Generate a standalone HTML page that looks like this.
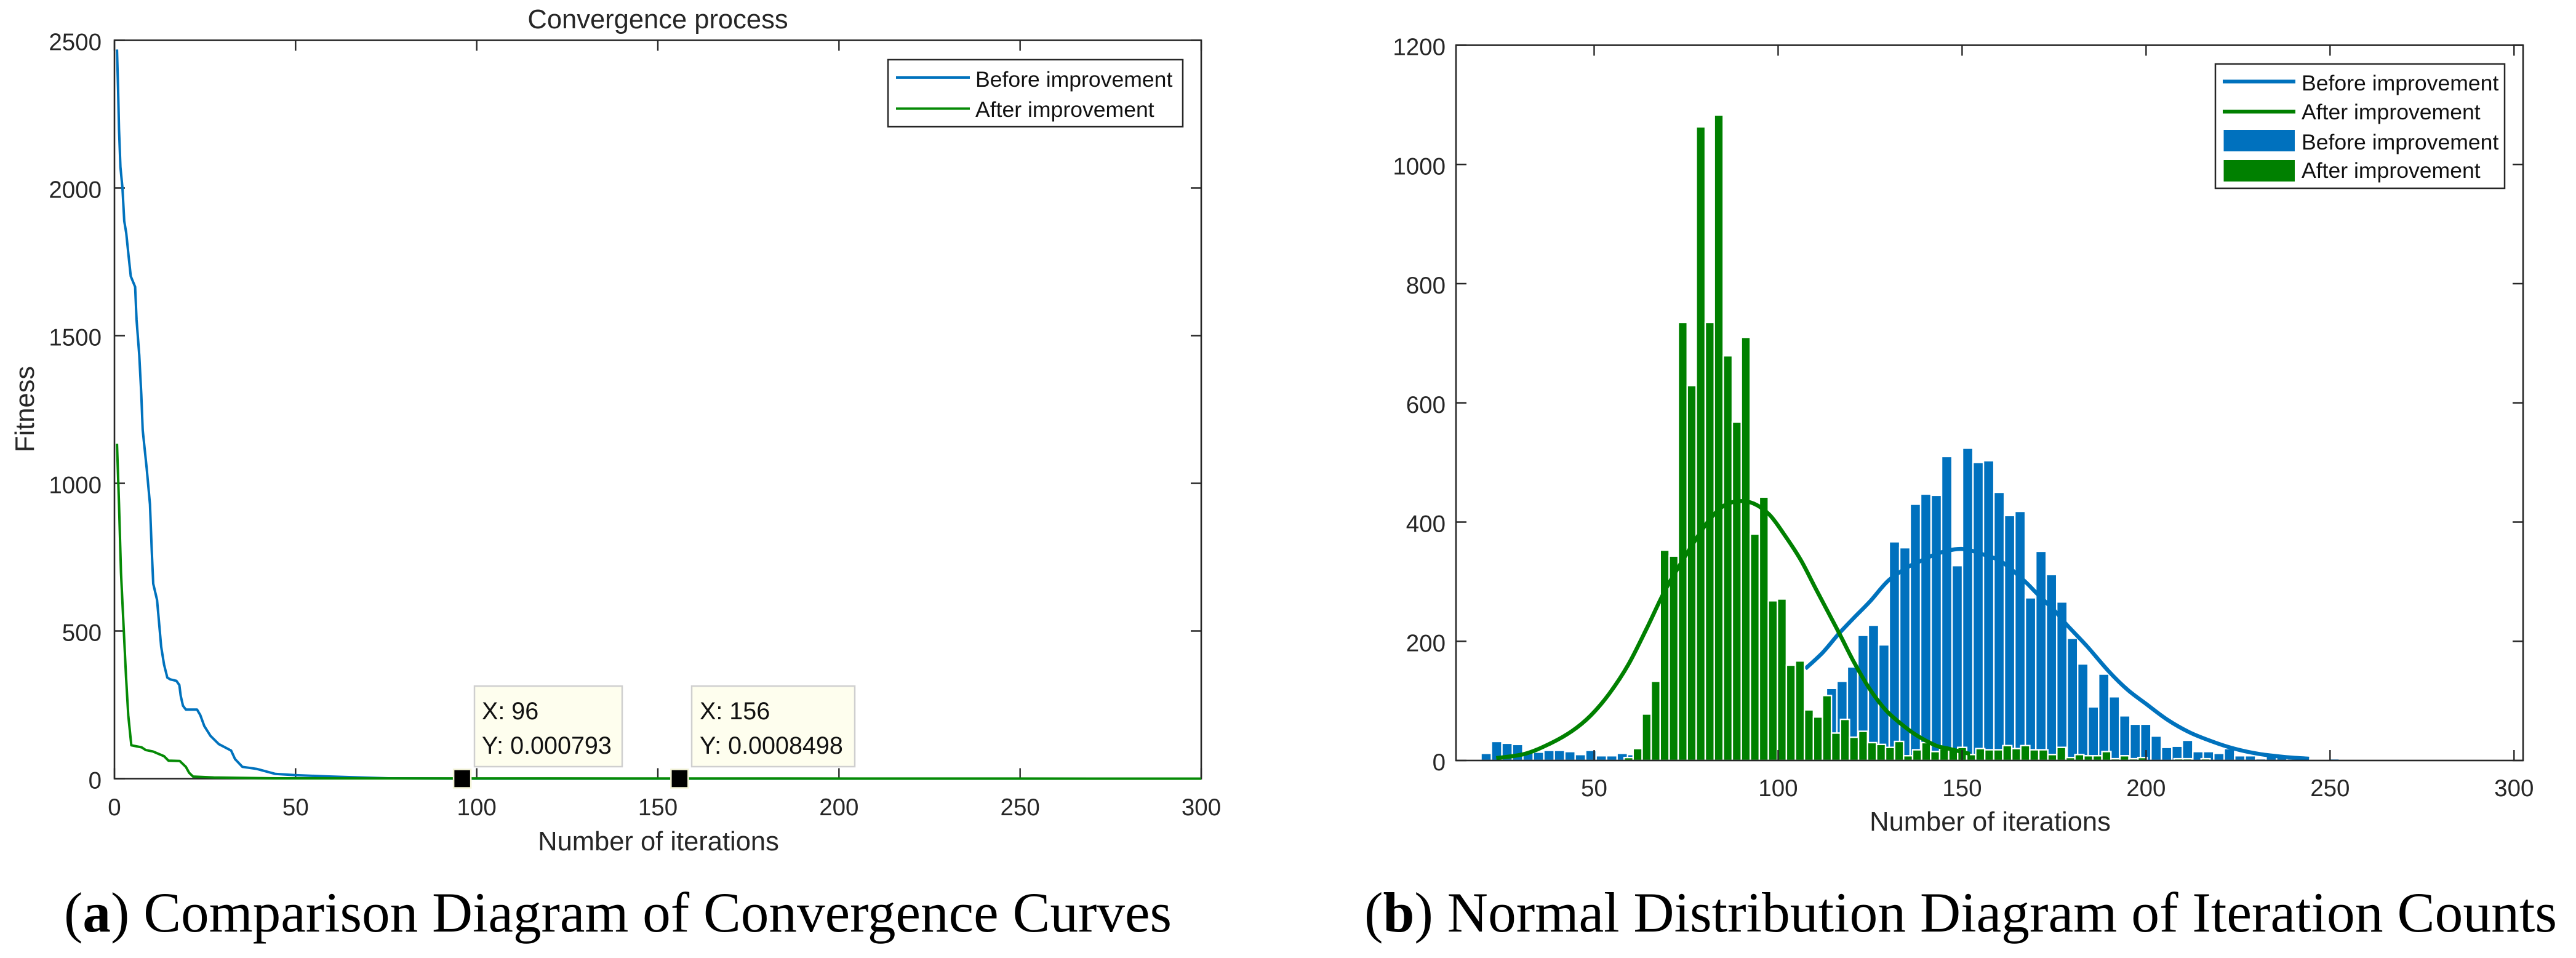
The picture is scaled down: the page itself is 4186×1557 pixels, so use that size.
<!DOCTYPE html>
<html lang="en">
<head>
<meta charset="utf-8">
<title>Convergence and iteration count comparison</title>
<style>
html,body{margin:0;padding:0;background:#fff;width:4186px;height:1557px;overflow:hidden}
svg{display:block}
text{font-family:"Liberation Sans",sans-serif;fill:#262626}
.tick{font-size:38.5px}
.lab{font-size:43.5px}
.leg{font-size:35.6px;fill:#111}
.tip{font-size:39.5px;fill:#111}
.cap{font-family:"Liberation Serif",serif;font-size:92px;fill:#000}
</style>
</head>
<body>
<svg id="fig" xmlns="http://www.w3.org/2000/svg" width="4186" height="1557" viewBox="0 0 4186 1557">
  <rect x="0" y="0" width="4186" height="1557" fill="#fff"/>

  <g id="panel-a">
    <text class="lab" x="1069" y="46" text-anchor="middle">Convergence process</text>
    <g id="a-lines"></g>
    <g id="a-axes"></g>
    <g id="a-markers"></g>
    <text class="lab" x="1070" y="1382" text-anchor="middle">Number of iterations</text>
    <text class="lab" transform="translate(55,665) rotate(-90)" text-anchor="middle">Fitness</text>

    <g>
      <rect x="771" y="1115" width="240" height="131" fill="#fefeee" stroke="#cfcfcf" stroke-width="2.5"/>
      <text class="tip" x="783" y="1169">X: 96</text>
      <text class="tip" x="783" y="1225">Y: 0.000793</text>
    </g>
    <g>
      <rect x="1124" y="1115" width="265" height="131" fill="#fefeee" stroke="#cfcfcf" stroke-width="2.5"/>
      <text class="tip" x="1137" y="1169">X: 156</text>
      <text class="tip" x="1137" y="1225">Y: 0.0008498</text>
    </g>

    <g>
      <rect x="1443" y="97" width="479" height="109" fill="#fff" stroke="#262626" stroke-width="2.5"/>
      <line x1="1456" x2="1576" y1="126" y2="126" stroke="#0072BD" stroke-width="4"/>
      <text class="leg" x="1585" y="141">Before improvement</text>
      <line x1="1456" x2="1576" y1="176.5" y2="176.5" stroke="#058a05" stroke-width="4"/>
      <text class="leg" x="1585" y="190">After improvement</text>
    </g>
  </g>

  <g id="panel-b">
    <g id="b-bars-before"></g>
    <g id="b-line-before"></g>
    <g id="b-bars-after"></g>
    <g id="b-line-after"></g>
    <g id="b-axes"></g>
    <text class="lab" x="3234" y="1350" text-anchor="middle">Number of iterations</text>

    <g>
      <rect x="3600" y="104" width="470" height="202" fill="#fff" stroke="#262626" stroke-width="2.5"/>
      <line x1="3612" x2="3730" y1="132.5" y2="132.5" stroke="#0072BD" stroke-width="6"/>
      <text class="leg" x="3740" y="147">Before improvement</text>
      <line x1="3612" x2="3730" y1="181.5" y2="181.5" stroke="#008000" stroke-width="6"/>
      <text class="leg" x="3740" y="194">After improvement</text>
      <rect x="3613.5" y="211" width="115.5" height="35" fill="#0071BE"/>
      <text class="leg" x="3740" y="243">Before improvement</text>
      <rect x="3613.5" y="260" width="115.5" height="35" fill="#008000"/>
      <text class="leg" x="3740" y="289">After improvement</text>
    </g>
  </g>

  <text class="cap" x="104" y="1514" textLength="1800" lengthAdjust="spacingAndGlyphs">(<tspan font-weight="bold">a</tspan>) Comparison Diagram of Convergence Curves</text>
  <text class="cap" x="2217" y="1514" textLength="1938" lengthAdjust="spacingAndGlyphs">(<tspan font-weight="bold">b</tspan>) Normal Distribution Diagram of Iteration Counts</text>
</svg>

<script>
/* ---------- Panel (a) data ---------- */
const convXTicks = [0, 50, 100, 150, 200, 250, 300];
const convYTicks = [0, 500, 1000, 1500, 2000, 2500];
const beforeIter = [0.7,1,1.25,1.65,2.2,2.7,3.25,3.9,4.5,5.7,6.1,6.85,7.4,7.8,8.9,9.8,10.3,10.7,11.75,12.3,12.9,13.7,14.6,15.4,17.1,17.9,18.3,18.9,19.7,22.8,23.7,24.8,26.5,28.8,32.2,33.3,35.3,39.3,44.4,49.8,58.6,75.6,100,300];
const beforeFitness = [2469,2334,2199,2071,2000,1888,1848,1769,1701,1665,1554,1434,1301,1180,1050,929,772,660,605,530,447,386,342,336,331,317,280,247,234,234,215,178,145,117,95,66,40,33,16,12,7.5,1,0,0];
const afterIter = [0.7,1.25,1.8,2.5,3.2,3.8,4.65,7.5,8.6,10.6,13.7,14.9,18,19.7,20.6,21.7,27.4,44.4,300];
const afterFitness = [1134,929,698,521,345,215,113,106,97,92,76,61,60,40,20,7,4,1,0];
const tipIter = [96, 156];
const tipFitness = [0.000793, 0.0008498];

/* ---------- Panel (b) data ---------- */
const distXTicks = [50, 100, 150, 200, 250, 300];
const distYTicks = [0, 200, 400, 600, 800, 1000, 1200];
const beforeBinStart = 16.4;
const beforeBinWidth = 2.845;
const beforeCounts = [2,12,32,29,27,13,14,17,17,15,10,17,8,8,12,10,6,5,8,10,12,14,18,20,25,30,36,40,48,54,60,66,70,72,121,133,157,210,227,194,367,357,430,447,445,510,327,524,500,503,450,411,418,273,351,312,266,205,162,90,145,107,75,61,61,41,22,24,34,15,15,12,20,8,8,3,8,5,3,3,0,0,3];
const afterBinStart = 58.15;
const afterBinWidth = 2.45;
const afterCounts = [5,20,78,133,353,343,735,629,1063,735,1083,679,568,710,380,442,268,271,160,167,85,73,109,46,69,39,49,30,27,22,32,8,18,30,15,20,18,22,10,20,18,18,25,20,25,18,18,10,22,5,10,8,8,15,3,8,3,5,0,0,0,3,3,0,3];
const beforeCurveX = [107.4,112.1,116.4,120.7,125,130,135.4,138.5,143.7,149.8,155.6,160.8,166.8,170.2,175.3,178.7,183.9,189.8,194.9,200,205.9,211.9,217.9,223.9,230.7,237.5,244.3];
const beforeCurveY = [154,181,212,240,267,302,325,334,348,355,346,333,302,281,250,226,192,150,119,95,68,47,32,20,11,6,3];
const afterCurveX = [23.4,31.1,37.9,43.9,49,54.1,59.3,64.4,69.5,75.5,80.6,84.9,89.1,93.4,97.7,101.9,106.2,110.5,116.4,120.7,125,129.2,133.5,137.7,142.9,146.2,152.2];
const afterCurveY = [4,11,28,49,75,112,161,223,288,350,398,426,435,431,412,377,336,285,216,164,119,85,61,42,25,20,11];

/* ---------- Axis functions ---------- */
const convBox = {l:186, r:1952, t:65.5, b:1265.5};
const distBox = {l:2366, r:4100, t:73.5, b:1236};
const convX = v => convBox.l + (v - 0) / 300 * (convBox.r - convBox.l);
const convY = v => convBox.b - (v - 0) / 2500 * (convBox.b - convBox.t);
const distX = v => distBox.l + (v - 12.46) / 290 * (distBox.r - distBox.l);
const distY = v => distBox.b - (v - 0) / 1200 * (distBox.b - distBox.t);

const NS = 'http://www.w3.org/2000/svg';
function node(tag, attrs, parent) {
  const n = document.createElementNS(NS, tag);
  for (const k in attrs) n.setAttribute(k, attrs[k]);
  parent.appendChild(n);
  return n;
}
function pathFrom(xs, ys, fx, fy) {
  return xs.map((x, i) => (i ? 'L' : 'M') + fx(x).toFixed(1) + ' ' + fy(ys[i]).toFixed(1)).join(' ');
}
function smoothPath(xs, ys, fx, fy) {
  const p = xs.map((x, i) => [fx(x), fy(ys[i])]);
  let d = 'M' + p[0][0].toFixed(1) + ' ' + p[0][1].toFixed(1);
  for (let i = 0; i < p.length - 1; i++) {
    const a = p[Math.max(i - 1, 0)], b = p[i], c = p[i + 1], e = p[Math.min(i + 2, p.length - 1)];
    const c1x = b[0] + (c[0] - a[0]) / 6, c1y = b[1] + (c[1] - a[1]) / 6;
    const c2x = c[0] - (e[0] - b[0]) / 6, c2y = c[1] - (e[1] - b[1]) / 6;
    d += ' C' + c1x.toFixed(1) + ' ' + c1y.toFixed(1) + ' ' + c2x.toFixed(1) + ' ' + c2y.toFixed(1) + ' ' + c[0].toFixed(1) + ' ' + c[1].toFixed(1);
  }
  return d;
}
function drawAxes(parent, box, fx, fy, xTicks, yTicks, xBase, yEnd) {
  const frame = node('rect', {x: box.l, y: box.t, width: box.r - box.l, height: box.b - box.t, fill: 'none', stroke: '#262626', 'stroke-width': 2.6}, parent);
  
  
  xTicks.forEach(v => {
    const x = fx(v);
    const top = node('line', {x1: x, x2: x, y1: box.t, y2: box.t + 17, stroke: '#262626', 'stroke-width': 2.4}, parent);
    
    
    const bot = node('line', {x1: x, x2: x, y1: box.b, y2: box.b - 17, stroke: '#262626', 'stroke-width': 2.4}, parent);
    
    
    const t = node('text', {class: 'tick', x: x, y: xBase, 'text-anchor': 'middle'}, parent);
    
    
    t.textContent = v;
  });
  yTicks.forEach(v => {
    const y = fy(v);
    const left = node('line', {x1: box.l, x2: box.l + 17, y1: y, y2: y, stroke: '#262626', 'stroke-width': 2.4}, parent);
    
    
    const right = node('line', {x1: box.r, x2: box.r - 17, y1: y, y2: y, stroke: '#262626', 'stroke-width': 2.4}, parent);
    
    
    const t = node('text', {class: 'tick', x: yEnd, y: y + 16, 'text-anchor': 'end'}, parent);
    
    
    t.textContent = v;
  });
}
function drawBars(parent, counts, start, width, fill, name) {
  counts.forEach((c, i) => {
    if (c <= 0) return;
    const x0 = distX(start + i * width);
    const x1 = distX(start + (i + 1) * width);
    const bar = node('rect', {x: x0, y: distY(c), width: x1 - x0, height: distY(0) - distY(c), fill: fill, stroke: '#fff', 'stroke-width': 2.4}, parent);
    
    
  });
}

/* ---------- Panel (a) ---------- */
const aAxes = document.getElementById('a-axes');
const aLines = document.getElementById('a-lines');
drawAxes(aAxes, convBox, convX, convY, convXTicks, convYTicks, 1325, 165);
const lineBefore = node('path', {d: pathFrom(beforeIter, beforeFitness, convX, convY), fill: 'none', stroke: '#0072BD', 'stroke-width': 4, 'stroke-linejoin': 'round'}, aLines);


document.getElementById('panel-a').insertBefore(aAxes, aLines);
const lineAfter = node('path', {d: pathFrom(afterIter, afterFitness, convX, convY), fill: 'none', stroke: '#058a05', 'stroke-width': 4, 'stroke-linejoin': 'round'}, aLines);


const aMarkers = document.getElementById('a-markers');
tipIter.forEach((it, i) => {
  const m = node('rect', {x: convX(it) - 14, y: convY(tipFitness[i]) - 15, width: 28, height: 30, fill: '#000', stroke: '#f4f4d8', 'stroke-width': 2.5}, aMarkers);
  
  
});

/* ---------- Panel (b) ---------- */
drawBars(document.getElementById('b-bars-before'), beforeCounts, beforeBinStart, beforeBinWidth, '#0071BE', 'bar-before');
drawBars(document.getElementById('b-bars-after'), afterCounts, afterBinStart, afterBinWidth, '#008000', 'bar-after');
const curveBefore = node('path', {d: smoothPath(beforeCurveX, beforeCurveY, distX, distY), fill: 'none', stroke: '#0072BD', 'stroke-width': 6.5, 'stroke-linejoin': 'round'}, document.getElementById('b-line-before'));


const curveAfter = node('path', {d: smoothPath(afterCurveX, afterCurveY, distX, distY), fill: 'none', stroke: '#008000', 'stroke-width': 6.5, 'stroke-linejoin': 'round'}, document.getElementById('b-line-after'));


drawAxes(document.getElementById('b-axes'), distBox, distX, distY, distXTicks, distYTicks, 1294, 2349);
</script>
</body>
</html>
